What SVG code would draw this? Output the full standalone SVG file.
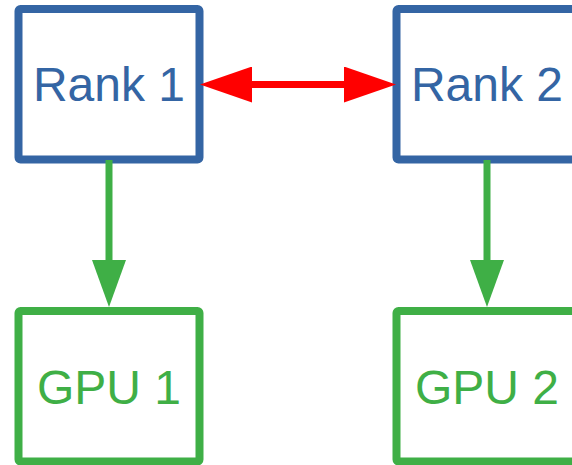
<svg xmlns="http://www.w3.org/2000/svg" width="572" height="465" viewBox="0 0 572 465">
<style>
.rank rect{fill:#fff;stroke:#3465A4;stroke-width:8}
.rank text{fill:#3465A4}
.gpu rect{fill:#fff;stroke:#3FAF46;stroke-width:8}
.gpu text{fill:#3FAF46}
text{font-family:"Liberation Sans",Arial,sans-serif;font-size:48px;text-anchor:middle}
.g{stroke:#3FAF46;stroke-width:7;fill:none}
.r{stroke:#FF0000;stroke-width:7;fill:none}
</style>
<defs>
<marker id="ag" markerUnits="userSpaceOnUse" viewBox="0 0 47 34" markerWidth="47" markerHeight="34" refX="0" refY="17" orient="auto"><path d="M0,0 L47,17 L0,34 z" fill="#3FAF46"/></marker>
<marker id="ar" markerUnits="userSpaceOnUse" viewBox="0 0 52 36" markerWidth="52" markerHeight="36" refX="0" refY="18" orient="auto-start-reverse"><path d="M0,0 L52,18 L0,36 z" fill="#FF0000"/></marker>
</defs>
<g id="rank1" class="rank"><rect x="18.5" y="9" width="181" height="150.5" rx="2"/><text x="109" y="101">Rank 1</text></g>
<g id="rank2" class="rank"><rect x="396.5" y="9" width="181" height="150.5" rx="2"/><text x="487" y="101">Rank 2</text></g>
<g id="gpu1" class="gpu"><rect x="18.5" y="311" width="181" height="150.5" rx="2"/><text x="109" y="404">GPU 1</text></g>
<g id="gpu2" class="gpu"><rect x="396.5" y="311" width="181" height="150.5" rx="2"/><text x="487" y="404">GPU 2</text></g>
<g id="connectors">
<line class="r" x1="252" y1="84.5" x2="344" y2="84.5" marker-start="url(#ar)" marker-end="url(#ar)"/>
<line class="g" x1="109" y1="160" x2="109" y2="260" marker-end="url(#ag)"/>
<line class="g" x1="487" y1="160" x2="487" y2="260" marker-end="url(#ag)"/>
</g>
</svg>
